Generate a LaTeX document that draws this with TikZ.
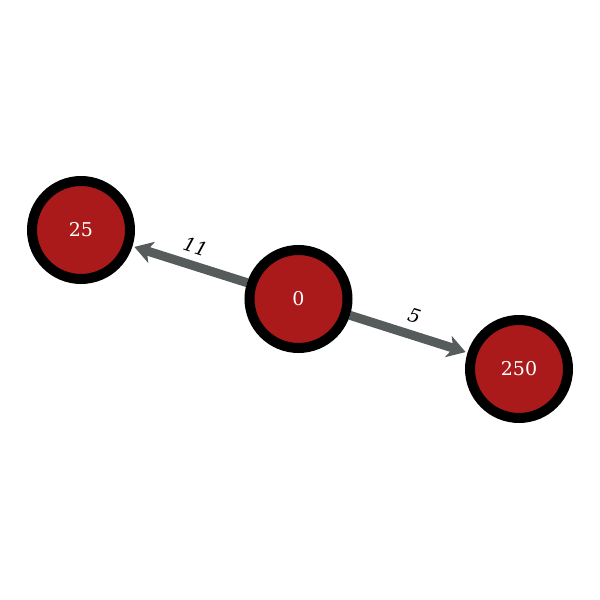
\documentclass[tikz,border=0pt]{standalone}
\usepackage{fontspec}
\setmainfont{DejaVu Serif}
\usetikzlibrary{arrows.meta,backgrounds}
\definecolor{nodered}{RGB}{170,26,26}
\definecolor{edgegray}{RGB}{86,92,91}
\tikzset{
  vertex/.style={circle, draw=black, line width=10pt, fill=nodered, minimum size=98pt, inner sep=0pt, text=white, font=\fontsize{19}{19}\selectfont},
  link/.style={draw=edgegray, line width=9pt, -{Stealth[length=18pt,width=22pt,inset=5pt]}, shorten >=2pt},
  elabel/.style={text=black, font=\fontsize{19}{19}\itshape\selectfont, above=4pt, sloped, midway}
}
\begin{document}
\begin{tikzpicture}[x=1pt,y=1pt]
\useasboundingbox (0,0) rectangle (600,600);
\node[vertex] (n25) at (81,370) {25};
\node[vertex] (n0) at (298.5,301) {0};
\node[vertex] (n250) at (519,231) {250};
\begin{pgfonlayer}{background}
\draw[link] (n0) -- node[elabel] {11} (n25);
\draw[link] (n0) -- node[elabel] {5} (n250);
\end{pgfonlayer}
\end{tikzpicture}
\end{document}
